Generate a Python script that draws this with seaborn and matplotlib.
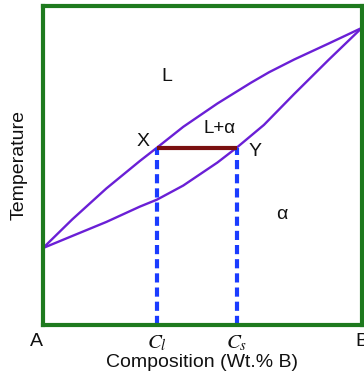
import matplotlib
matplotlib.use("Agg")
import matplotlib.pyplot as plt
import seaborn as sns
import pandas as pd

# Data (composition wt.% B, temperature in relative units)
liquidus_x = [0, 9.2, 19.9, 30.4, 35.8, 44.0, 54.7, 65.2, 70.9, 78.8, 89.6, 100]
liquidus_y = [24.1, 33.1, 42.8, 51.4, 55.6, 62.1, 69.4, 75.9, 79.2, 83.2, 88.2, 93.1]
solidus_x = [0, 9.2, 19.9, 30.4, 35.8, 44.0, 54.7, 60.8, 69.3, 78.8, 89.6, 100]
solidus_y = [24.1, 27.9, 32.3, 37.1, 39.3, 43.7, 50.9, 55.6, 62.7, 72.4, 83.1, 93.1]
tie_x = [35.8, 60.8]
tie_y = [55.6, 55.6]
tick_pos = [0, 35.8, 60.8, 100]
tick_labels = ["A", r"$C_l$", r"$C_s$", "B"]

sns.set_theme(style="white")
plt.rcParams["font.family"] = ["Liberation Sans", "DejaVu Sans"]
plt.rcParams["mathtext.fontset"] = "stix"

fig = plt.figure(figsize=(3.64, 3.79), dpi=100)
ax = fig.add_axes([0.118, 0.1425, 0.876, 0.842])

liq = pd.DataFrame({"x": liquidus_x, "y": liquidus_y})
sol = pd.DataFrame({"x": solidus_x, "y": solidus_y})
sns.lineplot(data=liq, x="x", y="y", sort=False, color="#6a1fd6", lw=1.7, ax=ax)
sns.lineplot(data=sol, x="x", y="y", sort=False, color="#6a1fd6", lw=1.7, ax=ax)

for xv in tie_x:
    ax.plot([xv, xv], [0, tie_y[0]], color="#1a3cff", lw=3, ls=(0, (2.2, 1.2)), zorder=2)
ax.plot(tie_x, tie_y, color="#7a1010", lw=3, zorder=3, solid_capstyle="butt")

ax.set_xlim(0, 100)
ax.set_ylim(0, 100)
ax.set_xticks(tick_pos)
ax.set_xticklabels(tick_labels)
ax.set_yticks([])
ax.tick_params(axis="x", length=0, pad=6, labelsize=14)
labs = ax.get_xticklabels()
labs[0].set_ha("right")
labs[1].set_fontsize(15)
labs[2].set_fontsize(15)
for lb in labs:
    lb.set_color("#111111")

ax.set_xlabel("Composition (Wt.% B)", fontsize=14, labelpad=1, color="#111111")
ax.set_ylabel("Temperature", fontsize=14, labelpad=11, color="#111111")

for s in ax.spines.values():
    s.set_color("#1e7a1e")
    s.set_linewidth(3)

ax.text(39, 78, "L", fontsize=14, ha="center", va="center", color="#111111")
ax.text(55.5, 61.5, "L+α", fontsize=13.5, ha="center", va="center", color="#111111")
ax.text(33.5, 57.5, "X", fontsize=14, ha="right", va="center", color="#111111")
ax.text(64.6, 54.5, "Y", fontsize=14, ha="left", va="center", color="#111111")
ax.text(75, 34.5, "α", fontsize=14, ha="center", va="center", color="#111111")

fig.savefig("out.png", dpi=100)
